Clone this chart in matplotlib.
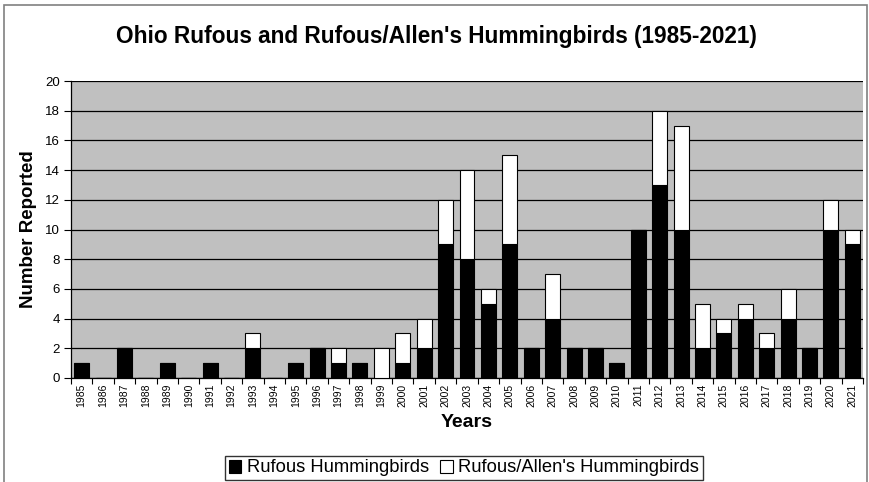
import numpy as np
import matplotlib.pyplot as plt
from matplotlib.patches import Rectangle

plt.rcParams['font.family'] = ['Liberation Sans', 'DejaVu Sans']

years = [str(y) for y in range(1985, 2022)]
rufous = [1, 0, 2, 0, 1, 0, 1, 0, 2, 0, 1, 2, 1, 1, 0, 1, 2, 9, 8, 5,
          9, 2, 4, 2, 2, 1, 10, 13, 10, 2, 3, 4, 2, 4, 2, 10, 9]
rufous_allens = [0, 0, 0, 0, 0, 0, 0, 0, 1, 0, 0, 0, 1, 0, 2, 2, 2, 3, 6, 1,
                 6, 0, 3, 0, 0, 0, 0, 5, 7, 3, 1, 1, 1, 2, 0, 2, 1]

fig = plt.figure(figsize=(8.69, 4.82), dpi=100)
# outer chart border
fig.patches.append(Rectangle((4 / 869, -0.05), 863 / 869, 1 - 5 / 482 + 0.05,
                             transform=fig.transFigure, fill=False,
                             edgecolor='#808080', linewidth=1.2))

ax = fig.add_axes([71 / 869, 1 - 378 / 482, 792 / 869, 297 / 482])
ax.set_facecolor('#c0c0c0')

x = np.arange(len(years))
ax.bar(x, rufous, width=0.7, color='black', edgecolor='black', linewidth=0.8,
       label='Rufous Hummingbirds', zorder=3)
ax.bar(x, rufous_allens, width=0.7, bottom=rufous, color='white',
       edgecolor='black', linewidth=0.8,
       label="Rufous/Allen's Hummingbirds", zorder=3)

ax.set_xlim(-0.5, len(years) - 0.5)
ax.set_ylim(0, 20)
ax.set_yticks(range(0, 21, 2))
ax.yaxis.grid(True, color='black', linewidth=0.9, zorder=1)
ax.set_axisbelow(True)

ax.set_xticks(x)
ax.set_xticklabels(years, rotation=90, fontsize=7.5)
ax.tick_params(axis='x', which='major', length=0, pad=4)
ax.set_xticks(np.arange(-0.5, len(years), 1), minor=True)
ax.tick_params(axis='x', which='minor', length=4, width=0.8, direction='out')
ax.tick_params(axis='y', length=5, width=0.8, labelsize=9.5, pad=3)

for side in ['top', 'right']:
    ax.spines[side].set_visible(False)
ax.spines['left'].set_linewidth(0.9)
ax.spines['bottom'].set_linewidth(0.9)

ax.set_ylabel('Number Reported', fontsize=13.5, fontweight='bold', labelpad=6)
ax.set_xlabel('Years', fontsize=14, fontweight='bold', labelpad=5)
fig.text(0.502, 1 - 36 / 482, "Ohio Rufous and Rufous/Allen's Hummingbirds (1985-2021)",
         ha='center', va='center', fontsize=16.3, fontweight='bold')

leg = fig.legend(loc='center', bbox_to_anchor=(464 / 869, 1 - 468 / 482),
                 ncol=2, fontsize=13.2, frameon=True, fancybox=False,
                 edgecolor='black', handlelength=0.7, handleheight=0.7,
                 handletextpad=0.3, columnspacing=0.6, borderpad=0.2,
                 borderaxespad=0)
leg.get_frame().set_linewidth(1.0)

fig.savefig('out.png', dpi=100)
